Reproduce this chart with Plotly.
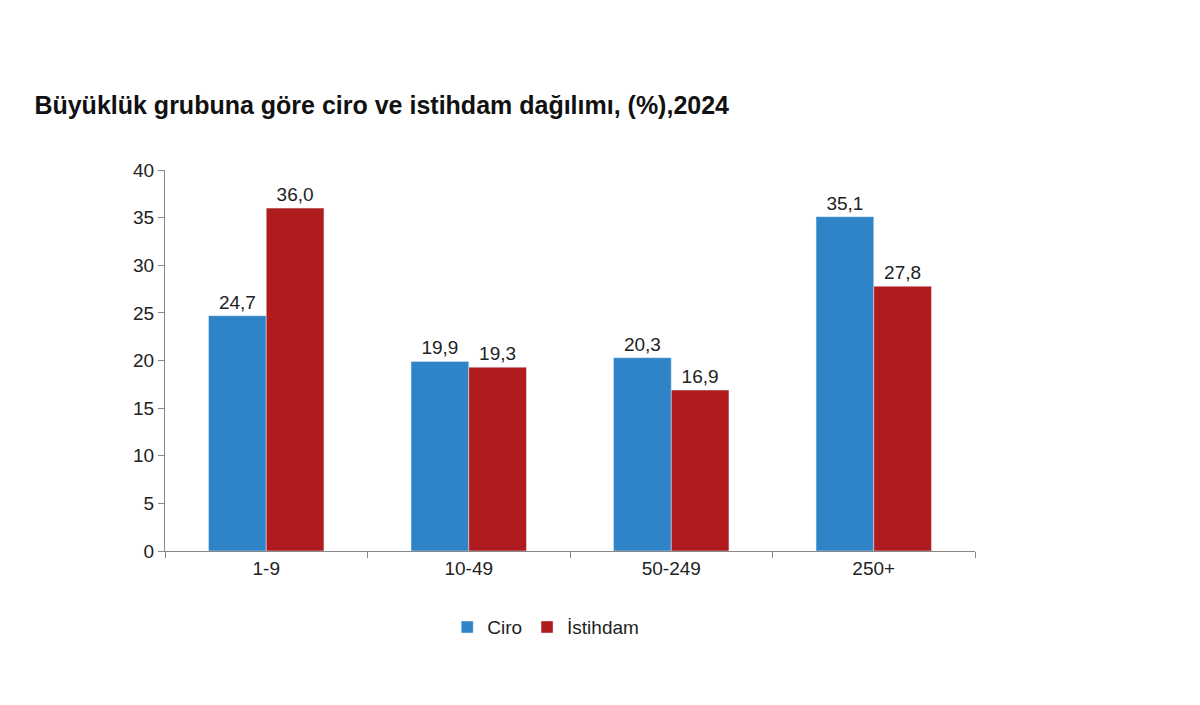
import plotly.graph_objects as go

categories = ["1-9", "10-49", "50-249", "250+"]
ciro = [24.7, 19.9, 20.3, 35.1]
istihdam = [36.0, 19.3, 16.9, 27.8]
ciro_labels = ["24,7", "19,9", "20,3", "35,1"]
istihdam_labels = ["36,0", "19,3", "16,9", "27,8"]

font = "Liberation Sans, Arial, sans-serif"
fig = go.Figure()
fig.add_bar(x=categories, y=ciro, name="Ciro", marker_color="#2E84C6",
            text=ciro_labels, textposition="outside", cliponaxis=False,
            textfont=dict(size=19, color="#222"))
fig.add_bar(x=categories, y=istihdam, name="İstihdam", marker_color="#B01B1E",
            text=istihdam_labels, textposition="outside", cliponaxis=False,
            textfont=dict(size=19, color="#222"))
fig.update_layout(
    width=1200, height=705, plot_bgcolor="white", paper_bgcolor="white",
    font=dict(family=font, size=18, color="#222"),
    title=dict(text="<b>Büyüklük grubuna göre ciro ve istihdam dağılımı, (%),2024</b>",
               x=0.022, xanchor="left", y=0.862, yanchor="middle", font=dict(size=25, color="#111")),
    margin=dict(l=157, r=233, t=162, b=162),
    barmode="group", bargap=0.43, bargroupgap=0,
    showlegend=True,
    legend=dict(orientation="h", x=0.47, xanchor="center", y=-0.15, yanchor="top",
                font=dict(size=19)),
    xaxis=dict(showline=True, linecolor="#888", ticks="outside", tickson="boundaries",
               ticklen=6, tickcolor="#888", tickfont=dict(size=19)),
    yaxis=dict(range=[0, 40], dtick=5, showline=True, linecolor="#888", ticks="outside",
               ticklen=6, tickcolor="#888", showgrid=False, tickfont=dict(size=19)),
)
fig.write_html("out.html")
